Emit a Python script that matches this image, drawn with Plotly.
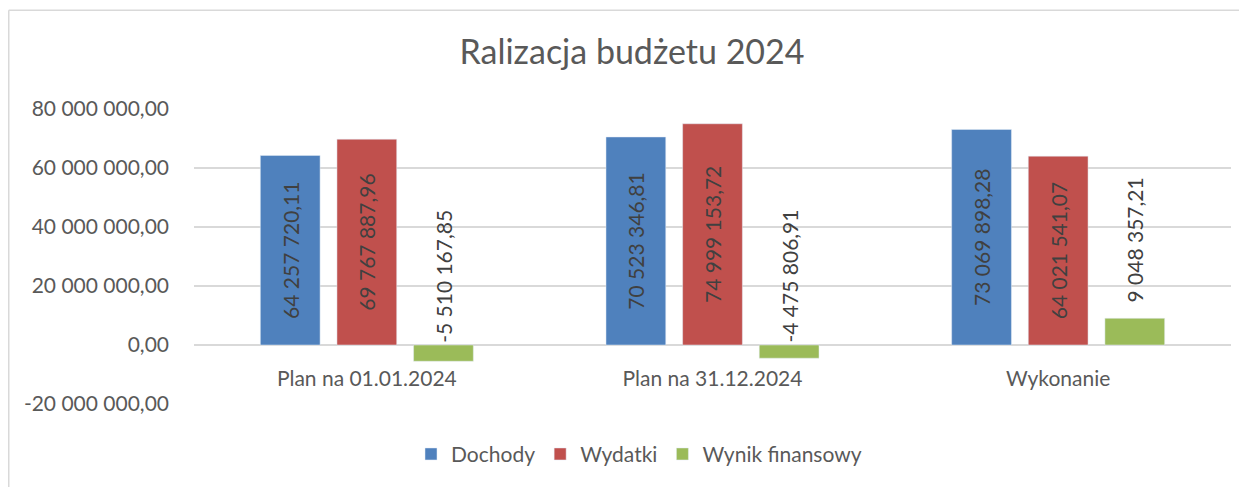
import plotly.graph_objects as go

categories = ["Plan na 01.01.2024", "Plan na 31.12.2024", "Wykonanie"]
dochody = [64257720.11, 70523346.81, 73069898.28]
wydatki = [69767887.96, 74999153.72, 64021541.07]
wynik = [-5510167.85, -4475806.91, 9048357.21]

y_ticks = [-20000000, 0, 20000000, 40000000, 60000000, 80000000]
y_tick_labels = ["-20 000 000,00", "0,00", "20 000 000,00", "40 000 000,00",
                 "60 000 000,00", "80 000 000,00"]

FONT = "Lato"
TXT = "#404040"
AX = "#595959"
LBL = 21

W, H = 1239, 479
L, R, T, B = 186, 16, 101, 79
PW, PH = W - L - R, H - T - B

y_min, y_max = y_ticks[0], y_ticks[-1]


def fmt(v):
    return f"{v:,.2f}".replace(",", " ").replace(".", ",")


fig = go.Figure()
fig.add_trace(go.Bar(
    name="Dochody", x=categories, y=dochody, marker_color="#4F81BD",
    text=[fmt(v) for v in dochody], textposition="inside",
    insidetextanchor="middle", textangle=-90,
    textfont=dict(family=FONT, size=LBL, color=TXT),
))
fig.add_trace(go.Bar(
    name="Wydatki", x=categories, y=wydatki, marker_color="#C0504D",
    text=[fmt(v) for v in wydatki], textposition="inside",
    insidetextanchor="middle", textangle=-90,
    textfont=dict(family=FONT, size=LBL, color=TXT),
))
fig.add_trace(go.Bar(
    name="Wynik finansowy", x=categories, y=wynik, marker_color="#9BBB59",
))

# green labels above the bar end / zero line
slot_px = 76.5
for c, v in zip(categories, wynik):
    fig.add_annotation(
        x=c, y=max(v, 0), xref="x", yref="y",
        text=fmt(v),
        textangle=-90, showarrow=False, xanchor="center", yanchor="bottom",
        xshift=slot_px, yshift=14 if v > 0 else 0,
        font=dict(family=FONT, size=LBL, color=TXT),
    )

fig.update_layout(
    width=W, height=H,
    margin=dict(l=L, r=R, t=T, b=B),
    paper_bgcolor="white", plot_bgcolor="white",
    barmode="group", bargap=0.335, bargroupgap=0.22,
    title=dict(text="Ralizacja budżetu 2024", x=624 / W, xanchor="center",
               y=1 - 44 / H, yanchor="middle",
               font=dict(family=FONT, size=34, color=AX)),
    font=dict(family=FONT, color=AX),
    showlegend=True,
    legend=dict(orientation="h", x=(631 - L) / PW, xanchor="center",
                y=-51 / PH, yanchor="middle",
                font=dict(family=FONT, size=LBL, color=AX), traceorder="normal"),
    xaxis=dict(type="category", anchor="free",
               position=(0 - y_min) / (y_max - y_min),
               showline=False, showgrid=False, ticks="", ticklabelstandoff=19,
               tickfont=dict(family=FONT, size=LBL, color=AX)),
    yaxis=dict(range=[y_min, y_max], tickvals=y_ticks, ticktext=y_tick_labels,
               showgrid=True, gridcolor="#D9D9D9", gridwidth=1.5,
               zeroline=True, zerolinecolor="#D9D9D9", zerolinewidth=1.5,
               showline=False, ticks="", ticklabelstandoff=24,
               tickfont=dict(family=FONT, size=LBL, color=AX)),
)

# chart frame (top and left edges visible)
fx = (0.75 - L) / PW
fy = 1 + (T - 1) / PH
fig.add_shape(type="line", xref="paper", yref="paper",
              x0=fx, x1=1.2, y0=fy, y1=fy,
              line=dict(color="#D9D9D9", width=1.5))
fig.add_shape(type="line", xref="paper", yref="paper",
              x0=fx, x1=fx, y0=-0.5, y1=fy,
              line=dict(color="#D9D9D9", width=1.5))

fig.write_html("out.html")
